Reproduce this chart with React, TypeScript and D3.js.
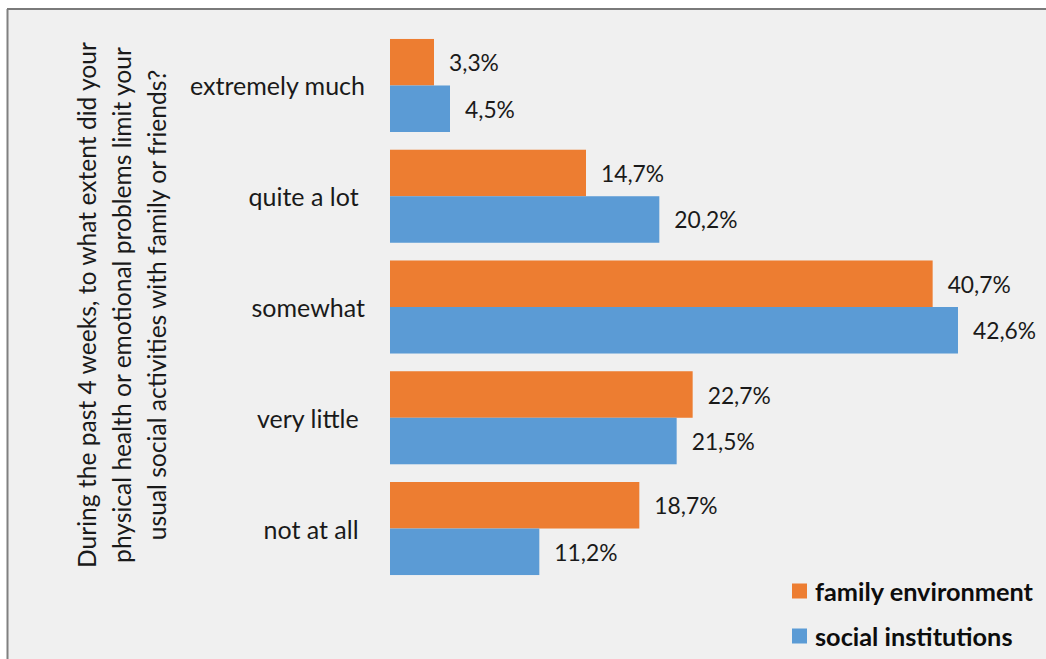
import React from "react";
import * as d3 from "d3";

const categories = ["extremely much", "quite a lot ", "somewhat", "very little ", "not at all "];
const seriesNames = ["family environment", "social institutions"];
const familyValues = [3.3, 14.7, 40.7, 22.7, 18.7];
const socialValues = [4.5, 20.2, 42.6, 21.5, 11.2];
const seriesColors = ["#ED7D31", "#5B9BD5"];
const axisTitleLines = [
  "During the past 4 weeks, to what extent did your",
  "physical health or emotional problems limit your",
  "usual social activities with family or friends?",
];

const W = 1046;
const H = 659;
const FONT = "Lato, 'Open Sans', sans-serif";

export default function App() {
  const x = d3.scaleLinear().domain([0, 45]).range([390, 390 + 45 * 13.333]);
  const y = d3
    .scaleBand<string>()
    .domain(categories)
    .range([30.1, 583.9])
    .paddingInner(0.16)
    .paddingOuter(0.08);
  const inner = d3
    .scaleBand<string>()
    .domain(seriesNames)
    .range([0, y.bandwidth()]);
  const seriesValues = [familyValues, socialValues];
  const fmt = (v: number) => v.toFixed(1).replace(".", ",") + "%";

  return (
    <svg
      width={W}
      height={H}
      style={{ position: "absolute", left: 0, top: 0, display: "block" }}
      fontFamily={FONT}
    >
      <rect x={0} y={0} width={W} height={H} fill="#ffffff" />
      <rect x={8} y={9} width={W - 8} height={H - 9} fill="#f0f0f0" />
      <line x1={7.5} y1={9} x2={7.5} y2={H} stroke="#808080" strokeWidth={2} />
      <line x1={7} y1={9} x2={W} y2={9} stroke="#7a7a7a" strokeWidth={2} />

      {/* axis title */}
      <g transform="translate(0,305)">
        {axisTitleLines.map((t, i) => (
          <text
            key={i}
            transform={`translate(${86 + i * 35},0) rotate(-90)`}
            textAnchor="middle"
            dominantBaseline="central"
            fontSize={24.6}
            fill="#1a1a1a"
          >
            {t}
          </text>
        ))}
      </g>

      {/* category labels */}
      {categories.map((c) => (
        <text
          key={c}
          x={365}
          y={(y(c) as number) + y.bandwidth() / 2}
          textAnchor="end"
          dominantBaseline="central"
          fontSize={25}
          fill="#1a1a1a"
          style={{ whiteSpace: "pre" }}
        >
          {c}
        </text>
      ))}

      {/* bars */}
      {seriesNames.map((s, si) => (
        <g key={s}>
          {categories.map((c, ci) => {
            const v = seriesValues[si][ci];
            const by = (y(c) as number) + (inner(s) as number);
            return (
              <g key={c}>
                <rect
                  x={x(0)}
                  y={by}
                  width={x(v) - x(0)}
                  height={inner.bandwidth()}
                  fill={seriesColors[si]}
                />
                <text
                  x={x(v) + 15}
                  y={by + inner.bandwidth() / 2}
                  dominantBaseline="central"
                  fontSize={22.8}
                  fill="#1a1a1a"
                >
                  {fmt(v)}
                </text>
              </g>
            );
          })}
        </g>
      ))}

      {/* legend */}
      {seriesNames.map((s, i) => (
        <g key={s} transform={`translate(792,${591 + i * 45})`}>
          <rect x={0} y={-7.5} width={15} height={15} fill={seriesColors[i]} />
          <text
            x={23}
            y={0}
            dominantBaseline="central"
            fontSize={25.3}
            fontWeight="bold"
            fill="#0d0d0d"
          >
            {s}
          </text>
        </g>
      ))}
    </svg>
  );
}
